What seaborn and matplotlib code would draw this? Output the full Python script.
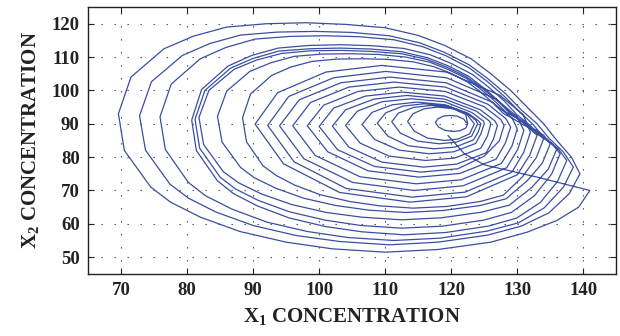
import numpy as np
import pandas as pd
import seaborn as sns
import matplotlib.pyplot as plt

# trajectory waypoints (X1, X2), outermost loop first
start_path = [(119.5, 86.5), (122.0, 81.0), (125.0, 77.7), (133.0, 74.0)]
loop_01 = [(141, 70), (139.3, 65), (136, 61), (131.5, 57.5), (126, 54.5), (118, 52.3), (110, 51.5), (102, 52.5),
           (95, 54.5), (88, 57.7), (82, 62), (77.5, 66.5), (74.5, 71), (70.5, 82), (69.6, 93), (71.5, 104),
           (76.5, 112.5), (81, 116.3), (86, 119), (92, 120), (98, 120.3), (104, 119.8), (110, 118.8), (115, 116.5),
           (119, 113.5), (123, 109.5), (126, 105), (129, 100), (131.5, 95), (134, 90), (136, 85), (138.2, 80)]
loop_02 = [(139.5, 75), (137.9, 69.1), (134.8, 63.3), (130.6, 59.3), (125.5, 56.6), (118.0, 54.5), (110.6, 53.7), (103.1, 54.7),
           (96.5, 56.5), (90.0, 59.5), (84.4, 63.5), (80.2, 67.7), (77.4, 71.9), (73.7, 82.1), (72.8, 92.4), (74.6, 102.6),
           (79.3, 110.5), (83.5, 114.1), (88.1, 116.6), (93.7, 117.5), (99.3, 117.7), (104.9, 117.4), (110.6, 116.4), (115.2, 114.3),
           (119.0, 111.4), (122.7, 107.7), (125.5, 103.6), (128.3, 98.9), (130.6, 94.2), (133.0, 90.0), (134.8, 85.7), (137.0, 81.5)]
loop_03 = [(138.5, 77), (137.0, 71.0), (134.1, 64.8), (130.2, 60.3), (125.4, 57.8), (118.3, 55.7), (111.3, 55), (104.3, 55.9),
           (98.2, 57.7), (92.1, 60.5), (86.8, 64.4), (82.8, 68.4), (80.2, 72.4), (76.7, 82.3), (75.9, 92.1), (77.6, 101.9),
           (82.0, 109.5), (85.9, 112.9), (90.3, 115.4), (95.6, 116.2), (100.8, 116.4), (106.1, 116.1), (111.3, 115.2), (115.7, 113.1),
           (119.2, 110.4), (122.7, 106.8), (125.4, 102.8), (128.0, 98.3), (130.2, 93.9), (132.4, 89.8), (134.1, 85.7), (136.2, 82.5)]
loop_04 = [(137.5, 79), (136.1, 72.7), (133.5, 66.4), (129.9, 61.7), (125.6, 59.3), (119.2, 57.4), (112.8, 56.7), (106.5, 57.6),
           (100.9, 59.2), (95.4, 61.8), (90.6, 65.4), (87.0, 69.1), (84.6, 72.9), (81.4, 82.0), (80.7, 91.1), (82.2, 100.3),
           (86.2, 107.3), (89.8, 110.5), (93.8, 112.7), (98.5, 113.5), (103.3, 113.7), (108.1, 113.4), (112.8, 112.6), (116.8, 110.7),
           (120.0, 108.1), (123.2, 104.8), (125.6, 101.1), (128.0, 96.9), (129.9, 92.8), (131.9, 89.6), (133.5, 86.3), (135.3, 84.0)]
loop_05 = [(136.5, 81), (135.2, 74.9), (132.6, 68.4), (129.1, 63.4), (124.9, 61.1), (118.7, 59.3), (112.5, 58.7), (106.3, 59.5),
           (100.9, 61.1), (95.5, 63.6), (90.8, 67.0), (87.3, 70.5), (85.0, 74.0), (81.9, 82.7), (81.2, 91.3), (82.7, 100.0),
           (86.6, 106.7), (90.0, 109.6), (93.9, 111.8), (98.6, 112.5), (103.2, 112.7), (107.9, 112.4), (112.5, 111.6), (116.4, 109.8),
           (119.5, 107.4), (122.6, 104.3), (124.9, 100.8), (127.2, 96.8), (129.1, 92.9), (131.1, 90.0), (132.6, 87.3), (134.6, 85.3)]
loop_06 = [(136, 82.5), (134.7, 76.4), (132.2, 70.9), (128.8, 65.6), (124.6, 63.5), (118.5, 61.8), (112.5, 61.2), (106.4, 62.0),
           (101.1, 63.4), (95.8, 65.8), (91.2, 69.0), (87.8, 72.3), (85.5, 75.6), (82.5, 83.8), (81.8, 91.9), (83.3, 100.0),
           (87.1, 106.3), (90.5, 109.1), (94.3, 111.1), (98.8, 111.9), (103.4, 112.0), (107.9, 111.7), (112.5, 111.0), (116.3, 109.3),
           (119.3, 107.0), (122.3, 104.1), (124.6, 100.8), (126.9, 97.1), (128.8, 93.4), (130.7, 91.0), (132.2, 88.6), (134.0, 86.6)]
loop_07 = [(135, 84), (133.8, 78.2), (131.5, 72.9), (128.3, 67.5), (124.4, 65.5), (118.8, 64.0), (113.1, 63.4), (107.5, 64.1),
           (102.5, 65.5), (97.6, 67.7), (93.4, 70.7), (90.2, 73.8), (88.1, 76.9), (85.3, 84.5), (84.6, 92.2), (86.0, 99.8),
           (89.5, 105.7), (92.7, 108.3), (96.2, 110.2), (100.4, 110.9), (104.7, 111.0), (108.9, 110.8), (113.1, 110.0), (116.7, 108.5),
           (119.5, 106.3), (122.3, 103.6), (124.4, 100.5), (126.5, 97.0), (128.3, 93.5), (130.1, 91.5), (131.5, 89.6), (133.1, 87.8)]
loop_08 = [(134, 85.5), (132.9, 79.9), (130.8, 74.1), (127.9, 68.6), (124.4, 66.7), (119.3, 65.2), (114.2, 64.7), (109.1, 65.4),
           (104.6, 66.7), (100.2, 68.7), (96.3, 71.6), (93.5, 74.5), (91.5, 77.4), (89.0, 84.6), (88.4, 91.8), (89.6, 98.9),
           (92.8, 104.5), (95.7, 107.0), (98.9, 108.7), (102.7, 109.4), (106.5, 109.5), (110.4, 109.3), (114.2, 108.6), (117.4, 107.1),
           (120.0, 105.1), (122.5, 102.5), (124.4, 99.6), (126.3, 96.3), (127.9, 93.1), (129.5, 91.4), (130.8, 89.8), (132.2, 88.4)]
loop_09 = [(133, 86.5), (131.9, 80.6), (130.0, 74.7), (122.3, 68.1), (113.8, 66.5), (103.1, 69.4), (94.6, 78.0), (90.3, 89.9),
           (93.7, 99.3), (101.0, 105.5), (109.5, 107.5), (119.3, 105.5), (127.4, 98.5), (130.9, 92.7)]
loop_10 = [(132, 87.5), (131.0, 81.5), (129.2, 75.5), (122.1, 69.5), (114.1, 68), (104.1, 70.6), (96.2, 78.6), (92.2, 89.5),
           (95.4, 98.2), (102.2, 103.8), (110.1, 105.7), (119.3, 103.8), (126.8, 97.4), (130.0, 92.1)]
loop_11 = [(131, 88), (130.1, 82.4), (128.4, 76.8), (121.8, 71.4), (114.4, 70), (105.1, 72.4), (97.7, 79.5), (94, 89.4),
           (97.0, 97.2), (103.3, 102.3), (110.7, 104), (119.2, 102.3), (126.2, 96.5), (129.2, 91.8)]
loop_12 = [(130, 88.5), (129.2, 83.3), (127.6, 78.1), (121.5, 73.2), (114.7, 72), (106.2, 74.1), (99.4, 80.5), (96, 89.4),
           (98.7, 96.4), (104.5, 101.0), (111.3, 102.5), (119.1, 101.0), (125.6, 95.8), (128.3, 91.5)]
loop_13 = [(129, 89), (128.2, 84.2), (126.8, 79.4), (121.3, 75.1), (115.1, 74), (107.4, 75.9), (101.3, 81.6), (98.2, 89.4),
           (100.7, 95.6), (105.9, 99.7), (112.1, 101), (119.1, 99.7), (125.0, 95.1), (127.5, 91.3)]
loop_14 = [(128, 89.5), (127.3, 84.9), (125.0, 80.3), (121.0, 76.5), (115.4, 75.5), (108.4, 77.2), (102.8, 82.2), (100, 89.2),
           (102.2, 94.7), (107.0, 98.3), (112.6, 99.5), (119.0, 98.3), (124.4, 94.2), (126.6, 90.9)]
loop_15 = [(127, 89.5), (126.4, 85.4), (125.3, 81.3), (120.8, 77.9), (115.8, 77), (109.5, 78.5), (104.5, 83.0), (102, 89.3),
           (104.0, 94.2), (108.3, 97.4), (113.3, 98.5), (119.0, 97.4), (123.8, 93.8), (125.8, 90.8)]
loop_16 = [(126, 90), (125.5, 86.4), (124.5, 82.7), (120.5, 79.7), (116.1, 79), (110.6, 80.3), (106.2, 84.2), (104, 89.5),
           (105.8, 93.8), (109.5, 96.6), (113.9, 97.5), (119.0, 96.6), (123.1, 93.4), (124.9, 90.8)]
loop_17 = [(125, 90), (124.5, 87.0), (123.7, 84.1), (120.4, 81.6), (116.7, 81), (112.1, 82.1), (108.4, 85.3), (106.5, 89.8),
           (108.0, 93.4), (111.1, 95.7), (114.8, 96.5), (119.1, 95.7), (122.6, 93.1), (124.1, 90.9)]
loop_18 = [(124.5, 90), (124.1, 87.6), (123.4, 85.2), (120.6, 83.0), (117.4, 82.5), (113.5, 83.4), (110.4, 86.3), (108.8, 90.2),
           (110.1, 93.3), (112.7, 95.3), (115.9, 96), (119.5, 95.3), (122.5, 93.0), (123.7, 91.1)]
loop_19 = [(124, 90), (123.1, 86.3), (120.8, 84.5), (118.2, 84), (114.9, 84.8), (112.3, 87.2), (111, 90.6), (112.0, 93.2),
           (114.3, 94.9), (116.9, 95.5), (119.8, 94.9), (122.3, 93.0)]
loop_20 = [(123.5, 90), (122.8, 87), (121.0, 85.4), (119.0, 85), (116.4, 85.7), (114.4, 87.8), (113.4, 90.7), (114.2, 93),
           (115.9, 94.5), (117.9, 95), (120.3, 94.5), (122.2, 92.8)]
loop_21 = [(122.5, 90), (122.2, 88.7), (121.3, 87.9), (120.3, 87.7), (119.1, 88.0), (118.1, 89.0), (117.6, 90.4), (118.0, 91.5),
           (118.8, 92.3), (119.8, 92.5), (120.9, 92.3), (121.9, 91.4), (122.3, 90.3)]

x_ticks = [70, 80, 90, 100, 110, 120, 130, 140]
y_ticks = [50, 60, 70, 80, 90, 100, 110, 120]

path = (start_path + loop_01 + loop_02 + loop_03 + loop_04 + loop_05 + loop_06 + loop_07
        + loop_08 + loop_09 + loop_10 + loop_11 + loop_12 + loop_13 + loop_14 + loop_15
        + loop_16 + loop_17 + loop_18 + loop_19 + loop_20 + loop_21)
df = pd.DataFrame(path, columns=['x1', 'x2'])

sns.set_style('ticks')
plt.rcParams['font.family'] = ['Liberation Serif', 'DejaVu Serif']
plt.rcParams['font.weight'] = 'bold'
plt.rcParams['mathtext.fontset'] = 'custom'
plt.rcParams['mathtext.rm'] = 'Liberation Serif:bold'
plt.rcParams['mathtext.bf'] = 'Liberation Serif:bold'

fig = plt.figure(figsize=(6.2, 3.36), dpi=100)
ax = fig.add_axes([0.142, 0.185, 0.852, 0.794])

sns.lineplot(data=df, x='x1', y='x2', sort=False, estimator=None,
             color='#3a4fa2', linewidth=0.9, ax=ax)

ax.set_xlim(65, 145)
ax.set_ylim(45, 125)
ax.set_xticks(x_ticks)
ax.set_yticks(y_ticks)
ax.grid(True, linestyle=(0, (1.2, 10.5)), color='#444444', linewidth=0.8)
ax.tick_params(direction='in', length=4, width=0.8, top=True, right=True,
               labelsize=13.5, pad=6, color='#222222', labelcolor='#222222')
for lab in ax.get_xticklabels() + ax.get_yticklabels():
    lab.set_fontweight('bold')
for s in ax.spines.values():
    s.set_linewidth(1.0)
    s.set_color('#222222')

ax.set_xlabel(r'X$_{1}$ CONCENTRATION', fontsize=15, fontweight='bold', color='#222222', labelpad=5)
ax.set_ylabel(r'X$_{2}$ CONCENTRATION', fontsize=15, fontweight='bold', color='#222222', labelpad=7)

fig.savefig('out.png', dpi=100)
